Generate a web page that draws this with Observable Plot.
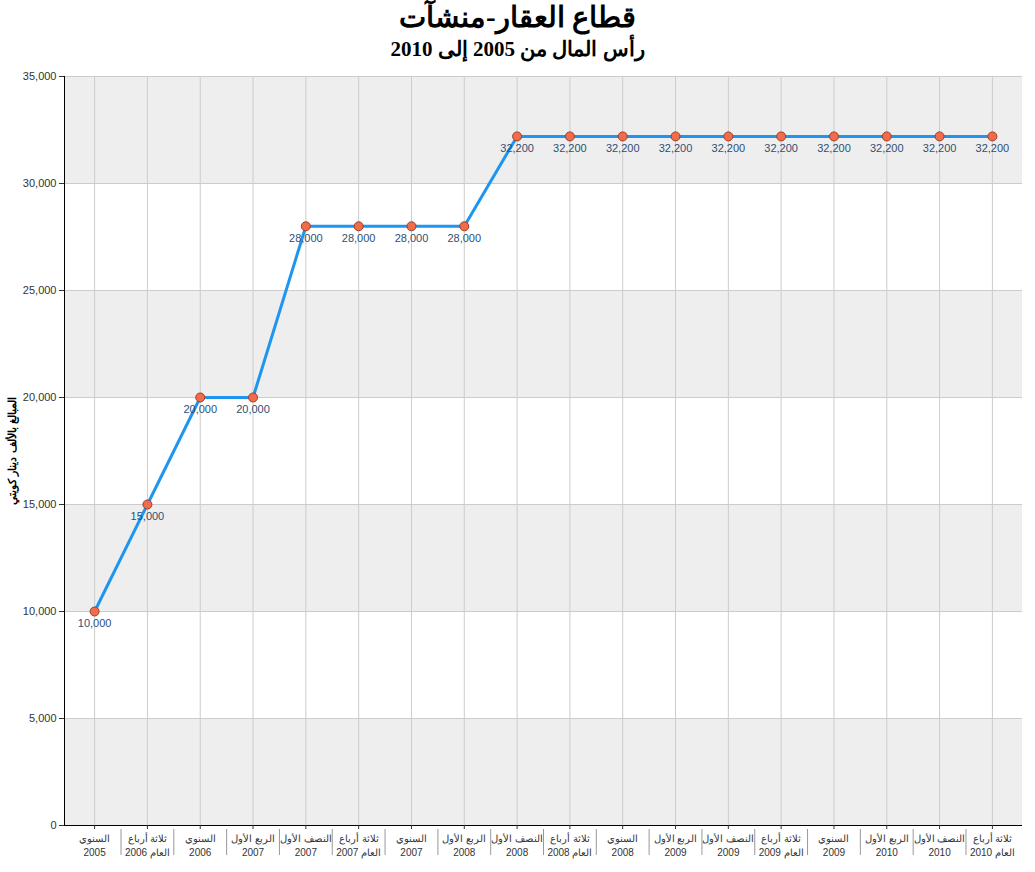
<!DOCTYPE html>
<html><head><meta charset="utf-8">
<script src="https://cdn.jsdelivr.net/npm/d3@7"></script>
<script src="https://cdn.jsdelivr.net/npm/@observablehq/plot@0.6"></script>
<style>
body{margin:0;background:#fff;width:1035px;}
#t{height:66px;text-align:center;font-family:"Liberation Serif","Times New Roman",serif;font-weight:bold;color:#000;}
.t1{font-size:29px;line-height:34px;}
.t2{font-size:21px;line-height:30px;}
</style></head><body>
<div id="t"><div class="t1" dir="rtl">قطاع العقار-منشآت</div><div class="t2" dir="rtl">رأس المال من 2005 إلى 2010</div></div>
<div id="chart"></div>
<script>
const line1 = ["السنوي","ثلاثة أرباع","السنوي","الربع الأول","النصف الأول","ثلاثة أرباع","السنوي","الربع الأول","النصف الأول","ثلاثة أرباع","السنوي","الربع الأول","النصف الأول","ثلاثة أرباع","السنوي","الربع الأول","النصف الأول","ثلاثة أرباع"];
const line2 = ["2005","العام 2006","2006","2007","2007","العام 2007","2007","2008","2008","العام 2008","2008","2009","2009","العام 2009","2009","2010","2010","العام 2010"];
const values = [10000,15000,20000,20000,28000,28000,28000,28000,32200,32200,32200,32200,32200,32200,32200,32200,32200,32200];
const yTicks = [0,5000,10000,15000,20000,25000,30000,35000];
const shadedBands = [[0,5000],[10000,15000],[20000,25000],[30000,35000]];
const yTitle = "المبالغ بالألف دينار كويتي";

const idx = d3.range(values.length);
const data = idx.map(i => ({i, v: values[i]}));
const xDomain = [-0.57, values.length - 1 + 0.57];
const fmt = d3.format(",");

const chart = Plot.plot({
  width: 1035, height: 806,
  marginTop: 10, marginBottom: 47, marginLeft: 64, marginRight: 13,
  style: {fontFamily: "'Liberation Sans', Arial, sans-serif", fontSize: "11px", color: "#333", background: "#fff"},
  x: {type: "linear", domain: xDomain},
  y: {domain: [0, 35000]},
  marks: [
    Plot.rect(shadedBands, {y1: d => d[0], y2: d => d[1], fill: "#eeeeee"}),
    Plot.ruleY(yTicks, {stroke: "#cccccc"}),
    Plot.ruleX(idx, {stroke: "#cccccc"}),
    Plot.ruleX([xDomain[0]], {stroke: "#000"}),
    Plot.ruleY([0], {stroke: "#000"}),
    Plot.axisY({ticks: yTicks, tickFormat: fmt, tickSize: 5, tickPadding: 3, label: null, fontSize: 11, color: "#333"}),
    Plot.axisX({ticks: idx, tickFormat: i => line1[i] + "\n" + line2[i], tickSize: 4, tickPadding: 2, label: null, fontSize: 10, lineHeight: 1.45, color: "#333"}),
    Plot.axisX({ticks: idx.slice(1).map(i => i - 0.5), tickFormat: () => "", tickSize: 26, dy: 4, label: null, stroke: "#999"}),
    Plot.line(data, {x: "i", y: "v", stroke: "#1e96f0", strokeWidth: 3}),
    Plot.dot(data, {x: "i", y: "v", r: 4.5, fill: "#f26b4a", stroke: "#9a3f25", strokeWidth: 1}),
    Plot.text(data, {x: "i", y: "v", text: d => fmt(d.v), dy: 12, fill: "#2e4f73", fontSize: 11}),
    Plot.text([yTitle], {frameAnchor: "left", textAnchor: "middle", rotate: -90, dx: -52, fontWeight: "bold", fontSize: 11, fill: "#000"})
  ]
});
document.getElementById("chart").appendChild(chart);
</script>
</body></html>
